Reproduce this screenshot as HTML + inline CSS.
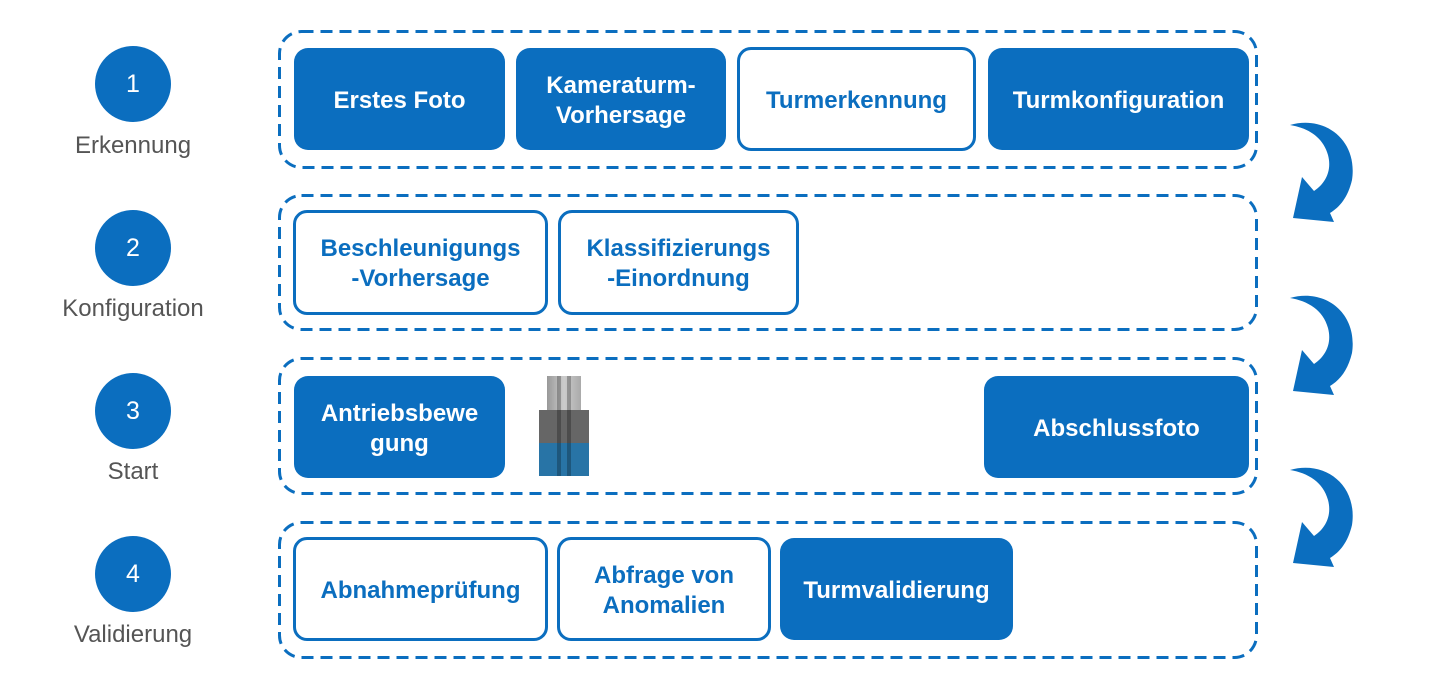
<!DOCTYPE html>
<html><head><style>
body{margin:0;width:1440px;height:686px;background:#fff;position:relative;font-family:"Liberation Sans",Arial,sans-serif;overflow:hidden}
.c{position:absolute;left:95px;width:76px;height:76px;border-radius:50%;background:#0b6ebf;color:#fff;font-size:25px;display:flex;align-items:center;justify-content:center}
.l{position:absolute;width:266px;left:0;text-align:center;color:#555;font-size:24px}
.b{position:absolute;box-sizing:border-box;border-radius:14px;display:flex;align-items:center;justify-content:center;text-align:center;font-weight:bold;font-size:24px;line-height:30px;padding-top:3px}
.f{background:#0b6ebf;color:#fff}
.o{background:#fff;color:#0b6ebf;border:3px solid #0b6ebf}
</style></head><body>
<svg style="position:absolute;left:0;top:0" width="1440" height="686">
<g fill="none" stroke="#0b6ebf" stroke-width="3" stroke-dasharray="12 7">
<rect x="279.5" y="31.5" width="977" height="136" rx="22"/>
<rect x="279.5" y="195.5" width="977" height="134" rx="22"/>
<rect x="279.5" y="358.5" width="977" height="135" rx="22"/>
<rect x="279.5" y="522.5" width="977" height="135" rx="22"/>
</g>
</svg>

<div class="c" style="top:46px">1</div><div class="l" style="top:132px">Erkennung</div>
<div class="c" style="top:210px">2</div><div class="l" style="top:295px">Konfiguration</div>
<div class="c" style="top:373px">3</div><div class="l" style="top:458px">Start</div>
<div class="c" style="top:536px">4</div><div class="l" style="top:621px">Validierung</div>

<div class="b f" style="left:294px;top:48px;width:211px;height:102px">Erstes Foto</div>
<div class="b f" style="left:516px;top:48px;width:210px;height:102px">Kameraturm-<br>Vorhersage</div>
<div class="b o" style="left:737px;top:47px;width:239px;height:104px">Turmerkennung</div>
<div class="b f" style="left:988px;top:48px;width:261px;height:102px">Turmkonfiguration</div>

<div class="b o" style="left:293px;top:210px;width:255px;height:105px">Beschleunigungs<br>-Vorhersage</div>
<div class="b o" style="left:558px;top:210px;width:241px;height:105px">Klassifizierungs<br>-Einordnung</div>

<div class="b f" style="left:294px;top:376px;width:211px;height:102px">Antriebsbewe<br>gung</div>
<div class="b f" style="left:984px;top:376px;width:265px;height:102px">Abschlussfoto</div>

<div class="b o" style="left:293px;top:537px;width:255px;height:104px">Abnahmeprüfung</div>
<div class="b o" style="left:557px;top:537px;width:214px;height:104px">Abfrage von<br>Anomalien</div>
<div class="b f" style="left:780px;top:538px;width:233px;height:102px">Turmvalidierung</div>

<svg style="position:absolute;left:0;top:0" width="1440" height="686">
<defs>
<linearGradient id="g" x1="0" x2="1"><stop offset="0" stop-color="#999"/><stop offset=".5" stop-color="#ccc"/><stop offset="1" stop-color="#aaa"/></linearGradient>
<g id="arr"><path d="M0,0 C35,-10 68,15 62,55 C58,72 50,82 40,88 L44,97 L3,93 L12,52 L24,66 C36,58 42,45 38,30 C33,12 18,3 0,0 Z" fill="#0b6ebf"/></g>
</defs>
<g transform="translate(1290,125)"><use href="#arr"/></g>
<g transform="translate(1290,298)"><use href="#arr"/></g>
<g transform="translate(1290,470)"><use href="#arr"/></g>
<rect x="547" y="376" width="34" height="34" fill="url(#g)"/>
<rect x="539" y="410" width="50" height="33" fill="#666"/>
<rect x="539" y="443" width="50" height="33" fill="#2874a6"/>
<rect x="557" y="376" width="4" height="100" fill="#000" opacity=".25"/>
<rect x="567" y="376" width="4" height="100" fill="#000" opacity=".25"/>
</svg>
</body></html>
